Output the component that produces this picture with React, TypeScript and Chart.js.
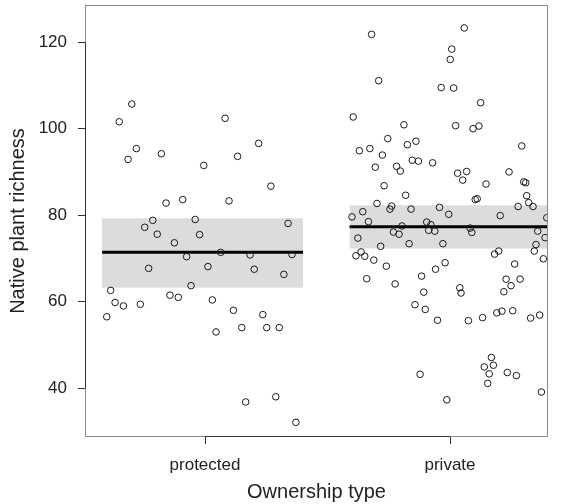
import React, { useEffect, useRef } from "react";
import { Chart, registerables } from "chart.js";
Chart.register(...registerables);

const categories = ["protected", "private"];
const categoryPositions = [1, 2];
const yTicks = [40, 60, 80, 100, 120];

const protectedX = [
  0.701, 0.65, 0.72, 0.686, 0.822, 0.995, 0.841, 0.909, 1.082, 1.219,
  1.133, 1.269, 1.098, 0.787, 0.754, 0.96, 0.805, 0.978, 0.875, 0.925,
  1.064, 0.77, 1.012, 0.615, 0.943, 0.633, 0.667, 0.736, 0.857, 0.891,
  1.03, 0.599, 1.339, 1.184, 1.355, 1.201, 1.322, 1.116, 1.236, 1.15,
  1.252, 1.303, 1.045, 1.166, 1.289, 1.371,
];
const protectedY = [
  105.7, 101.6, 95.4, 92.9, 94.2, 91.5, 82.8, 83.6, 102.4, 96.6,
  93.6, 86.7, 83.3, 78.8, 77.2, 79.0, 75.6, 75.5, 73.6, 70.4,
  71.4, 67.7, 68.1, 62.6, 63.7, 59.8, 59.0, 59.4, 61.5, 61.0,
  60.4, 56.5, 78.1, 70.8, 70.9, 67.5, 66.3, 58.0, 57.0, 54.0,
  54.0, 54.0, 53.0, 36.8, 38.0, 32.1,
];

const privateX = [
  1.68, 1.709, 1.605, 1.812, 1.746, 1.861, 2.058, 2.007, 2.001, 1.964,
  2.015, 2.125, 2.023, 2.094, 2.118, 1.826, 1.63, 1.673, 1.724, 1.695,
  1.782, 1.797, 1.846, 1.871, 1.929, 1.731, 1.819, 1.702, 1.762, 1.755,
  1.841, 1.957, 1.644, 1.6, 1.667, 1.905, 1.922, 1.804, 1.769, 1.792,
  1.913, 1.938, 1.624, 1.717, 1.833, 1.637, 1.616, 1.652, 1.689, 1.74,
  1.941, 1.66, 1.884, 2.293, 2.031, 2.068, 2.052, 2.241, 2.147, 2.301,
  2.309, 2.313, 2.321, 2.339, 2.278, 2.103, 2.111, 1.995, 2.205, 2.395,
  2.082, 2.089, 2.358, 2.388, 1.971, 2.351, 2.344, 2.182, 2.199, 2.381,
  1.98, 2.264, 2.229, 2.286, 1.776, 1.893, 1.857, 1.899, 1.949, 1.878,
  2.04, 2.045, 2.249, 2.22, 2.075, 2.133, 2.191, 2.212, 2.256, 2.329,
  2.366, 2.169, 2.14, 2.177, 2.16, 2.154, 2.234, 2.271, 2.373, 1.987,
];
const privateY = [
  121.8, 111.1, 102.7, 100.9, 97.7, 97.1, 123.3, 118.4, 116.0, 109.5,
  109.4, 106.0, 100.7, 100.0, 100.6, 96.3, 94.9, 95.4, 93.9, 91.1,
  91.3, 90.2, 92.7, 92.5, 92.1, 86.8, 84.6, 82.7, 82.1, 81.4,
  81.4, 81.8, 80.8, 79.6, 78.5, 78.4, 77.8, 77.5, 76.1, 75.6,
  76.5, 76.3, 74.7, 72.8, 73.4, 71.5, 70.6, 70.5, 69.6, 68.2,
  67.5, 65.3, 65.9, 96.0, 89.7, 90.1, 88.1, 90.0, 87.2, 87.7,
  87.5, 84.5, 82.9, 82.0, 82.0, 83.6, 83.8, 80.2, 79.9, 79.4,
  77.0, 76.0, 76.3, 74.8, 73.4, 73.2, 71.7, 71.0, 71.7, 69.9,
  69.0, 68.7, 65.2, 65.2, 64.1, 62.2, 59.3, 58.2, 55.7, 43.2,
  63.2, 62.0, 63.7, 62.3, 55.6, 56.3, 57.4, 57.8, 57.9, 56.2,
  56.9, 47.1, 44.9, 45.3, 43.3, 41.1, 43.6, 42.9, 39.1, 37.3,
];

const meanValues = [71.4, 77.3];
const lowerCI = [63.2, 72.3];
const upperCI = [79.3, 82.3];
const bandLeft = [0.58, 1.59];
const bandRight = [1.4, 2.41];

const framePlugin = {
  id: "frame",
  afterDraw(chart: any) {
    const { ctx, chartArea: a, scales } = chart;
    ctx.save();
    ctx.strokeStyle = "#8a8a8a";
    ctx.lineWidth = 1;
    ctx.strokeRect(a.left + 0.5, a.top + 0.5, a.right - a.left - 1, a.bottom - a.top - 1);
    ctx.strokeStyle = "#333333";
    ctx.beginPath();
    const x1 = scales.x.getPixelForValue(categoryPositions[0]);
    const x2 = scales.x.getPixelForValue(categoryPositions[categoryPositions.length - 1]);
    ctx.moveTo(x1, a.bottom - 0.5);
    ctx.lineTo(x2, a.bottom - 0.5);
    const y1 = scales.y.getPixelForValue(yTicks[0]);
    const y2 = scales.y.getPixelForValue(yTicks[yTicks.length - 1]);
    ctx.moveTo(a.left + 0.5, y1);
    ctx.lineTo(a.left + 0.5, y2);
    ctx.stroke();
    ctx.restore();
  },
};

export default function App() {
  const ref = useRef<HTMLCanvasElement | null>(null);
  useEffect(() => {
    document.body.style.margin = "0";
    if (!ref.current) return;
    Chart.defaults.font.family = "'Liberation Sans', Arial, sans-serif";
    const pointStyle = {
      pointRadius: 3.3,
      pointBorderWidth: 1,
      pointBorderColor: "#1a1a1a",
      pointBackgroundColor: "rgba(0,0,0,0)",
      showLine: false,
    };
    const datasets: any[] = [
      {
        type: "scatter",
        data: protectedX.map((x, i) => ({ x, y: protectedY[i] })),
        ...pointStyle,
      },
      {
        type: "scatter",
        data: privateX.map((x, i) => ({ x, y: privateY[i] })),
        ...pointStyle,
      },
    ];
    categories.forEach((_, i) => {
      datasets.push({
        type: "line",
        showLine: true,
        data: [
          { x: bandLeft[i], y: meanValues[i] },
          { x: bandRight[i], y: meanValues[i] },
        ],
        borderColor: "#000000",
        borderWidth: 3,
        pointRadius: 0,
        fill: false,
      });
    });
    categories.forEach((_, i) => {
      datasets.push({
        type: "line",
        showLine: true,
        data: [
          { x: bandLeft[i], y: upperCI[i] },
          { x: bandRight[i], y: upperCI[i] },
        ],
        borderWidth: 0,
        borderColor: "rgba(0,0,0,0)",
        backgroundColor: "#dcdcdc",
        pointRadius: 0,
        fill: { value: lowerCI[i] },
      });
    });
    const chart = new Chart(ref.current, {
      type: "scatter",
      data: { datasets },
      options: {
        animation: false,
        responsive: false,
        layout: { padding: { left: 0, top: 5, right: 14, bottom: 0 } },
        plugins: { legend: { display: false }, tooltip: { enabled: false } },
        scales: {
          x: {
            type: "linear",
            min: 0.5102,
            max: 2.4,
            afterBuildTicks: (s: any) => {
              s.ticks = categoryPositions.map((v) => ({ value: v }));
            },
            afterFit: (s: any) => {
              s.height = 67;
              s.paddingLeft = 0;
              s.paddingRight = 0;
            },
            ticks: {
              autoSkip: false,
              maxRotation: 0,
              padding: 11,
              color: "#222",
              font: { size: 17 },
              callback: (v: any) => {
                const idx = categoryPositions.indexOf(Number(v));
                return idx >= 0 ? categories[idx] : "";
              },
            },
            grid: { drawOnChartArea: false, drawTicks: true, tickLength: 7, color: "#333" },
            border: { display: false },
            title: {
              display: true,
              text: "Ownership type",
              color: "#222",
              font: { size: 20 },
              padding: { top: 0, bottom: 0 },
            },
          },
          y: {
            type: "linear",
            min: 28.7,
            max: 128.6,
            afterBuildTicks: (s: any) => {
              s.ticks = yTicks.map((v) => ({ value: v }));
            },
            afterFit: (s: any) => {
              s.width = 85;
              s.paddingTop = 0;
              s.paddingBottom = 0;
            },
            ticks: { padding: 11, color: "#222", font: { size: 17 } },
            grid: { drawOnChartArea: false, drawTicks: true, tickLength: 7, color: "#333" },
            border: { display: false },
            title: {
              display: true,
              text: "Native plant richness",
              color: "#222",
              font: { size: 20 },
              padding: { top: 6, bottom: 0 },
            },
          },
        },
      },
      plugins: [framePlugin],
    });
    return () => chart.destroy();
  }, []);
  return <canvas ref={ref} width={562} height={504} style={{ display: "block" }} />;
}
